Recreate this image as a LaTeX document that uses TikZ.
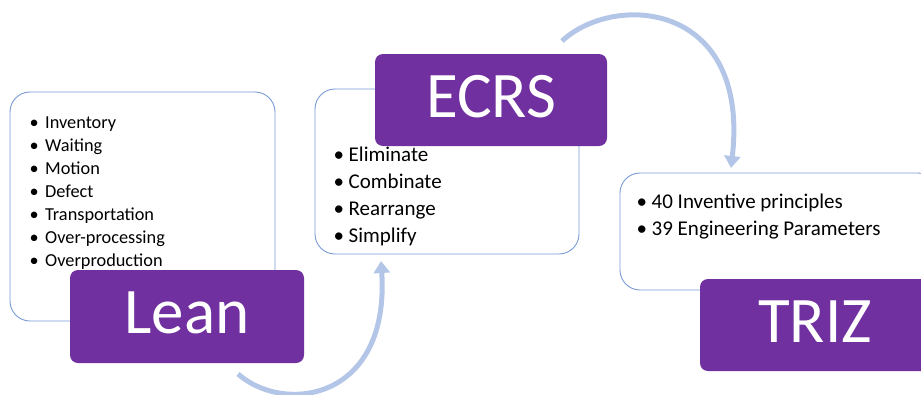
\documentclass[tikz,border=0pt]{standalone}
\usepackage{fontspec}
\setmainfont{Carlito}
\usetikzlibrary{arrows.meta}
\definecolor{procpurple}{RGB}{112,48,160}
\definecolor{boxline}{RGB}{120,154,214}
\definecolor{flowblue}{RGB}{180,198,231}
\newcommand{\bul}[1]{\makebox[#1][l]{\hspace{-1.5pt}\textbullet}}
\begin{document}
\begin{tikzpicture}[x=1pt,y=-1pt,
  listbox/.style={draw=boxline,line width=0.9pt,fill=white,rounded corners=20pt,
    inner sep=0pt,minimum width=#1},
  titlebox/.style={fill=procpurple,rounded corners=8pt,inner sep=0pt,text=white,
    font=\fontsize{65}{65}\selectfont,text depth=7pt},
  leanitem/.style={anchor=base west,inner sep=0pt,font=\fontsize{18.3}{22}\selectfont},
  bigitem/.style={anchor=base west,inner sep=0pt,font=\fontsize{21}{25}\selectfont},
  flow/.style={draw=flowblue,line width=5pt,-{Triangle[length=12pt,width=16pt]}}
]
\path[use as bounding box,clip] (0,0) rectangle (921,394);

% list frames
\node[listbox=265pt,minimum height=229pt] (leanbox) at (142.5,206.5) {};
\node[listbox=264pt,minimum height=165pt] (ecrsbox) at (447,171.5) {};
\node[listbox=318pt,minimum height=117pt] (trizbox) at (779,231.5) {};

% list entries
\foreach \t [count=\i] in {Inventory,Waiting,Motion,Defect,Transportation,Over-processing,Overproduction}
  \node[leanitem] (lean\i) at (31,{128+23*(\i-1)}) {\bul{14pt}\t};
\foreach \t [count=\i] in {Eliminate,Combinate,Rearrange,Simplify}
  \node[bigitem] (ecrs\i) at (335,{161+27*(\i-1)}) {\bul{13.5pt}\t};
\foreach \t [count=\i] in {40 Inventive principles,39 Engineering Parameters}
  \node[bigitem] (triz\i) at (638,{208+27*(\i-1)}) {\bul{13.5pt}\t};

% title blocks
\node[titlebox,minimum width=234pt,minimum height=93pt] (lean) at (187,316.5) {Lean};
\node[titlebox,minimum width=232pt,minimum height=92pt] (ecrs) at (491,100) {ECRS};
\node[titlebox,minimum width=230pt,minimum height=92pt] (triz) at (815,325) {TRIZ};

% flow arrows
\coordinate (f1s) at (238,374);
\coordinate (f1e) at (381,261);
\coordinate (f2s) at (562,41);
\coordinate (f2e) at (731,168);
\draw[flow] (f1s) .. controls (285,415) and (390,400) .. (f1e);
\draw[flow] (f2s) .. controls (615,-8) and (750,2) .. (f2e);
\end{tikzpicture}
\end{document}
